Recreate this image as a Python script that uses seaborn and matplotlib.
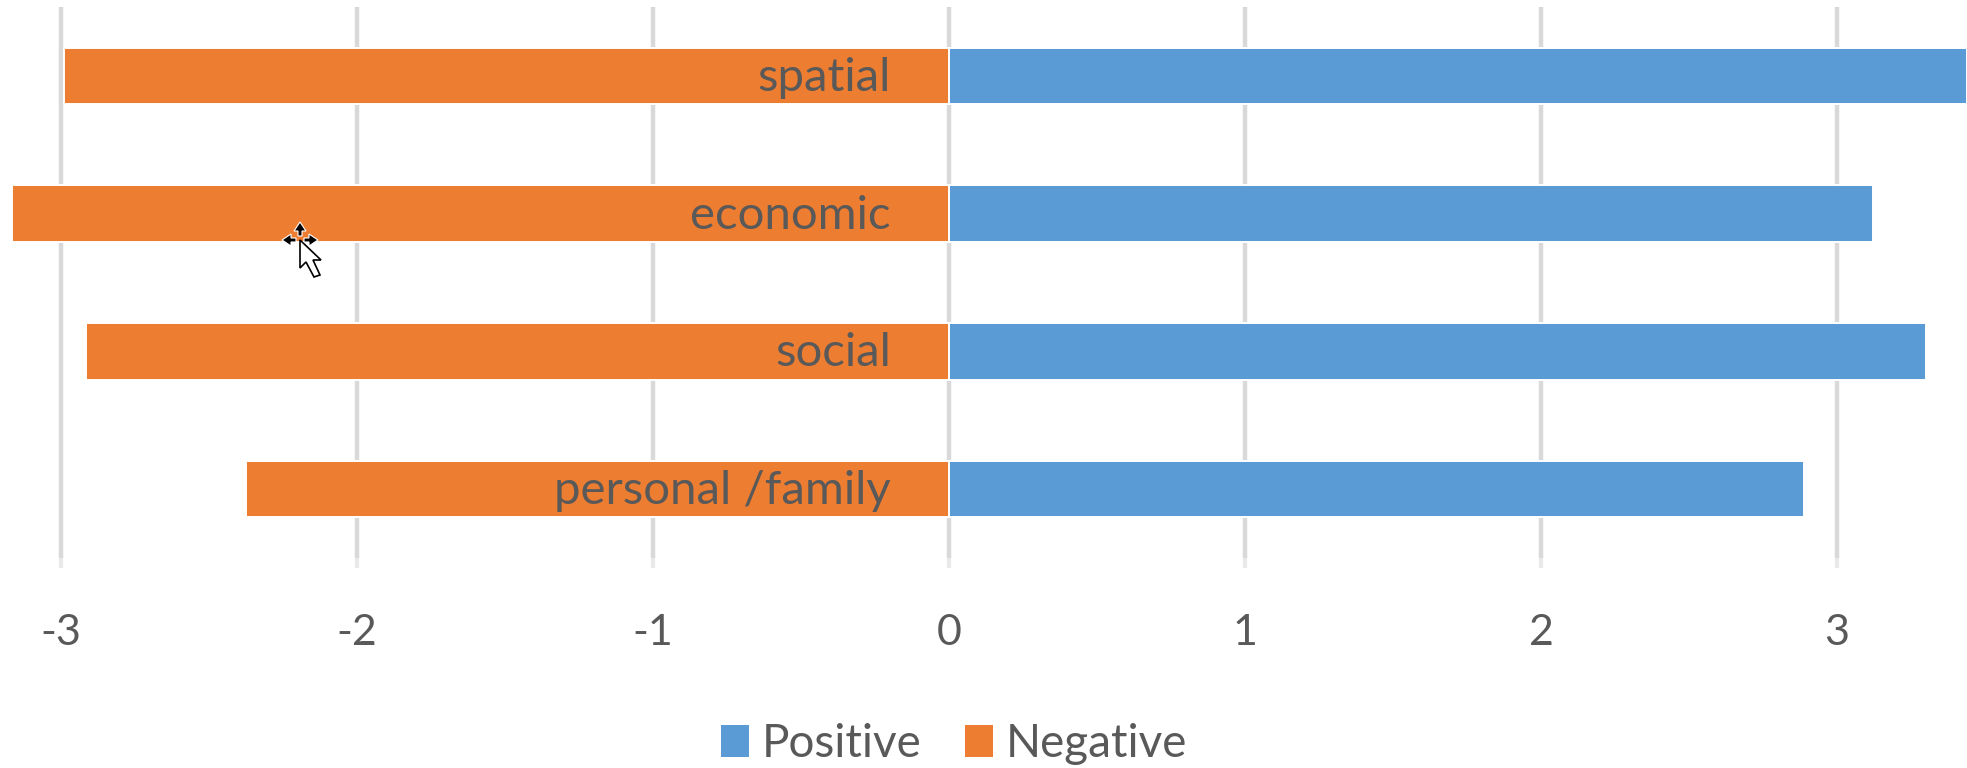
import matplotlib
matplotlib.use("Agg")
import matplotlib.pyplot as plt
from matplotlib.patches import Polygon
from matplotlib.transforms import Affine2D
import pandas as pd
import seaborn as sns

# Survey dimensions and their mean scores
categories = ["spatial", "economic", "social", "personal /family"]
positive = [3.44, 3.12, 3.30, 2.89]
negative = [-2.99, -3.165, -2.915, -2.375]
x_ticks = [-3, -2, -1, 0, 1, 2, 3]

BLUE = "#5B9BD5"
ORANGE = "#ED7D31"
GRID = "#D9D9D9"
TEXT = "#595959"
W, H = 1967, 768

sns.set_theme(style="white")
plt.rcParams["font.family"] = ["Lato", "DejaVu Sans"]

scores = pd.DataFrame({
    "category": categories * 2,
    "value": positive + negative,
    "series": ["Positive"] * 4 + ["Negative"] * 4,
})

fig = plt.figure(figsize=(W / 100, H / 100), dpi=100, facecolor="white")
ax = fig.add_axes([0, 1 - 558 / H, 1, (558 - 7) / H])

sns.barplot(
    data=scores, x="value", y="category", hue="series",
    hue_order=["Positive", "Negative"],
    palette={"Positive": BLUE, "Negative": ORANGE},
    order=categories, orient="h", dodge=False, width=0.41, saturation=1,
    edgecolor="white", linewidth=1.4, ax=ax, zorder=3,
)

ax.set_xlim(-3.206, 3.439)
ax.set_ylim(3.5, -0.5)
ax.set_xticks(x_ticks)
ax.set_xticklabels([str(t) for t in x_ticks])
ax.set_yticks([])
ax.set_xlabel("")
ax.set_ylabel("")
ax.grid(axis="x", color=GRID, linewidth=3.2, zorder=0)
ax.set_axisbelow(True)
ax.tick_params(axis="x", length=7, width=3, color="#E9E9E9", pad=33,
               labelsize=31, labelcolor=TEXT, bottom=True)
for spine in ax.spines.values():
    spine.set_visible(False)

# Dimension names sit inside the negative bars, right aligned near zero
for y, name in enumerate(categories):
    ax.text(-0.196, y + 0.014, name, ha="right", va="center", fontsize=34,
            color=TEXT, zorder=5)

handles, labels = ax.get_legend_handles_labels()
for handle in handles:
    handle.set_edgecolor("none")
ax.legend(
    handles, labels, loc="center", bbox_to_anchor=(954 / W, 1 - 744 / H),
    bbox_transform=fig.transFigure, ncol=2, frameon=False, fontsize=33,
    labelcolor=TEXT, handlelength=0.62, handleheight=0.7, handletextpad=0.27,
    columnspacing=0.95, borderpad=0,
)

# Pointer left on the screen capture: pixel space with y running downward
to_pixels = Affine2D().scale(1, -1).translate(0, H)
pointer = [(300, 240), (300, 268), (306, 262), (314, 277), (320, 275),
           (313, 260), (321, 260)]
fig.add_artist(Polygon(pointer, closed=True, facecolor="white",
                       edgecolor="black", linewidth=1.2, transform=to_pixels,
                       zorder=10))
move_arrows = [
    [(300, 222), (294, 231), (298, 231), (298, 236), (302, 236), (302, 231), (306, 231)],
    [(282, 240), (291, 234), (291, 238), (296, 238), (296, 242), (291, 242), (291, 246)],
    [(318, 240), (309, 234), (309, 238), (304, 238), (304, 242), (309, 242), (309, 246)],
]
for shape in move_arrows:
    fig.add_artist(Polygon(shape, closed=True, facecolor="black",
                           edgecolor="white", linewidth=0.8,
                           transform=to_pixels, zorder=10))

fig.savefig("out.png", dpi=100, facecolor="white")
